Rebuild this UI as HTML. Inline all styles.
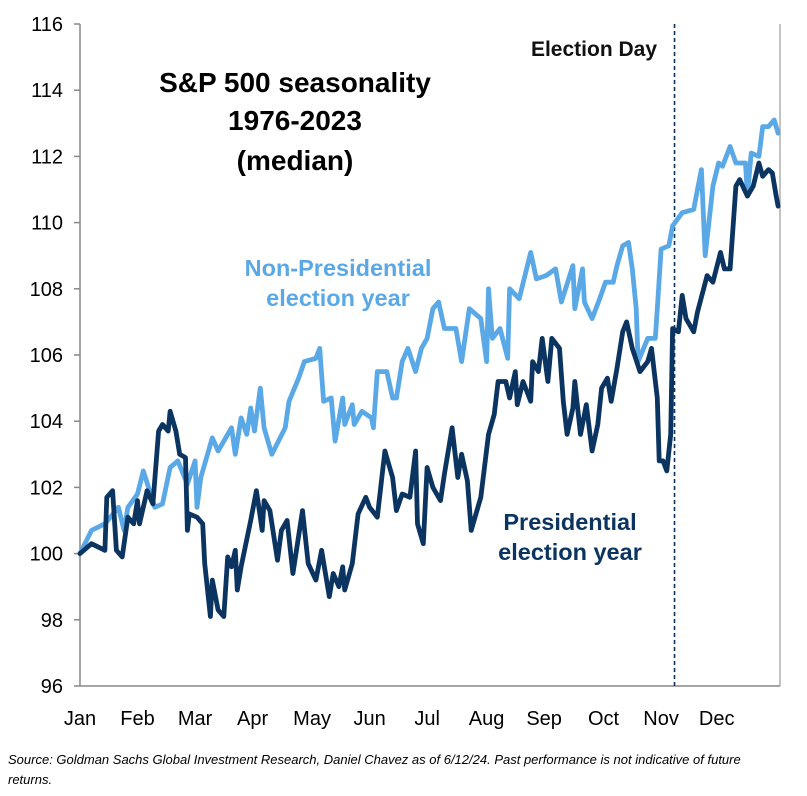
<!DOCTYPE html>
<html><head><meta charset="utf-8"><style>
body{margin:0;background:#fff;width:807px;height:791px;overflow:hidden;font-family:"Liberation Sans",Arial,sans-serif}
</style></head><body>
<svg id="chart" width="807" height="791" xmlns="http://www.w3.org/2000/svg" font-family="Liberation Sans, Arial, sans-serif">
<g id="axes"></g>
<g id="series"></g>
<text x="295" text-anchor="middle" font-weight="bold" font-size="28" fill="#000"><tspan x="295" y="92">S&amp;P 500 seasonality</tspan><tspan x="295" y="130">1976-2023</tspan><tspan x="295" y="170">(median)</tspan></text>
<text x="594" y="56" text-anchor="middle" font-weight="bold" font-size="21" fill="#111">Election Day</text>
<text text-anchor="middle" font-weight="bold" font-size="23.5" fill="#5aa9e6"><tspan x="338" y="276">Non-Presidential</tspan><tspan x="338" y="306">election year</tspan></text>
<text text-anchor="middle" font-weight="bold" font-size="23.5" fill="#0b3560"><tspan x="570" y="530">Presidential</tspan><tspan x="570" y="560">election year</tspan></text>
<text font-style="italic" font-size="13" fill="#000"><tspan x="8" y="764">Source: Goldman Sachs Global Investment Research, Daniel Chavez  as of 6/12/24. Past performance is not indicative of future</tspan><tspan x="8" y="784">returns.</tspan></text>
</svg>
<script>
const yTicks=[96,98,100,102,104,106,108,110,112,114,116];
const months=["Jan","Feb","Mar","Apr","May","Jun","Jul","Aug","Sep","Oct","Nov","Dec"];
const monthDays=[0,30,60,90,121,151,181,212,242,273,303,332];
const electionDay=310;
const nonPresDays=[0,6,13,20,23,25,30,33,39,43,47,51,56,60,61,63,67,69,72,79,81,84,87,89,91,94,96,100,107,109,114,117,123,125,127,131,133,137,138,142,143,147,152,153,155,160,163,165,168,171,175,178,181,184,187,190,196,199,203,209,212,213,215,219,223,224,229,235,238,243,248,251,257,258,262,263,267,271,274,278,280,283,286,288,290,291,296,300,301,303,307,309,314,320,322,324,326,330,333,335,339,342,347,348,350,354,356,359,362,364];
const nonPresVals=[100.0,100.7,100.9,101.4,100.7,101.4,101.8,102.5,101.4,101.5,102.6,102.8,102.1,102.8,101.4,102.3,103.1,103.5,103.1,103.8,103.0,104.1,103.6,104.4,103.7,105.0,103.8,103.0,103.8,104.6,105.3,105.8,105.9,106.2,104.6,104.7,103.4,104.7,103.9,104.5,103.9,104.3,104.1,103.8,105.5,105.5,104.7,104.7,105.8,106.2,105.5,106.2,106.5,107.4,107.6,106.8,106.8,105.8,107.4,107.1,105.8,108.0,106.5,106.8,105.9,108.0,107.7,109.1,108.3,108.4,108.6,107.6,108.7,107.4,108.6,107.6,107.1,107.7,108.2,108.2,108.7,109.3,109.4,108.6,107.4,105.8,106.5,106.5,107.4,109.2,109.3,109.9,110.3,110.4,111.0,111.6,109.0,111.1,111.8,111.7,112.3,111.8,111.8,110.8,112.1,112.0,112.9,112.9,113.1,112.7];
const presDays=[0,6,13,14,17,19,22,25,28,30,31,35,38,41,43,46,47,50,52,55,56,57,61,64,65,68,69,72,75,77,79,81,82,84,89,92,95,96,99,103,105,108,111,116,119,123,126,130,132,135,137,138,142,145,149,151,155,159,163,165,168,172,175,176,179,181,184,188,190,194,197,199,202,204,209,213,216,218,222,224,227,228,231,235,236,239,241,244,246,250,252,254,257,258,261,264,267,270,272,275,277,280,283,285,288,292,296,298,301,302,304,306,308,309,312,314,316,320,322,327,330,334,336,339,342,344,348,351,354,356,359,361,363,364];
const presVals=[100.0,100.3,100.1,101.7,101.9,100.1,99.9,101.1,100.9,101.6,100.9,101.9,101.5,103.7,103.9,103.7,104.3,103.7,103.0,102.9,100.7,101.2,101.1,100.9,99.7,98.1,99.2,98.3,98.1,99.9,99.6,100.1,98.9,99.6,101.0,101.9,100.7,101.6,101.3,99.8,100.7,101.0,99.4,101.3,99.7,99.2,100.1,98.7,99.4,99.0,99.6,98.9,99.7,101.2,101.7,101.4,101.1,103.1,102.3,101.3,101.8,101.7,103.1,100.9,100.3,102.6,102.0,101.6,102.4,103.8,102.3,103.0,102.2,100.7,101.7,103.6,104.2,105.2,105.2,104.7,105.5,104.5,105.2,104.6,105.8,105.5,106.5,105.2,106.5,106.2,104.6,103.6,104.4,105.2,103.6,104.5,103.1,103.9,105.0,105.3,104.6,105.6,106.7,107.0,106.2,105.5,105.8,106.2,104.7,102.8,102.8,102.5,103.6,106.8,106.7,107.8,107.1,106.7,107.3,108.4,108.2,109.1,108.6,108.6,111.1,111.3,110.8,111.1,111.8,111.4,111.6,111.5,110.8,110.5];

const NS="http://www.w3.org/2000/svg";
const X0=80,X1=780,Y0=686,Y1=24;
function xs(d){return X0+d/365*(X1-X0);}
function ys(v){return Y0-(v-96)/20*(Y0-Y1);}
function mk(tag,attrs,parent){const e=document.createElementNS(NS,tag);for(const k in attrs)e.setAttribute(k,attrs[k]);parent.appendChild(e);return e;}
const axes=document.getElementById('axes');
const series=document.getElementById('series');

yTicks.forEach(t=>{
  const tk=mk('line',{x1:X0-6,x2:X0,y1:ys(t),y2:ys(t),stroke:'#888','stroke-width':1.5},axes);
  
  
  const lb=mk('text',{x:X0-17,y:ys(t)+7,'text-anchor':'end','font-size':20,fill:'#000'},axes);
  lb.textContent=t;
  
  
});
months.forEach((m,i)=>{
  const lb=mk('text',{x:xs(monthDays[i]),y:Y0+39,'text-anchor':'middle','font-size':20,fill:'#000'},axes);
  lb.textContent=m;
  
  
});
const ya=mk('line',{x1:X0,x2:X0,y1:Y1,y2:Y0,stroke:'#888','stroke-width':1.5},axes);


const xa=mk('line',{x1:X0,x2:X1,y1:Y0,y2:Y0,stroke:'#888','stroke-width':1.5},axes);


const rb=mk('line',{x1:X1,x2:X1,y1:Y1,y2:Y0,stroke:'#999','stroke-width':1.2},axes);



const ed=mk('line',{x1:xs(electionDay),x2:xs(electionDay),y1:Y1,y2:Y0,stroke:'#0b3560','stroke-width':1.6,'stroke-dasharray':'4,3'},series);



function draw(days,vals,color,name){
  const d=days.map((t,i)=>(i?'L':'M')+xs(t).toFixed(1)+','+ys(vals[i]).toFixed(1)).join(' ');
  const p=mk('path',{d:d,fill:'none',stroke:color,'stroke-width':4.8,'stroke-linejoin':'round','stroke-linecap':'round'},series);
  
  
}
draw(nonPresDays,nonPresVals,'#5aa9e6','non-presidential-line');
draw(presDays,presVals,'#0b3560','presidential-line');
</script>
</body></html>
